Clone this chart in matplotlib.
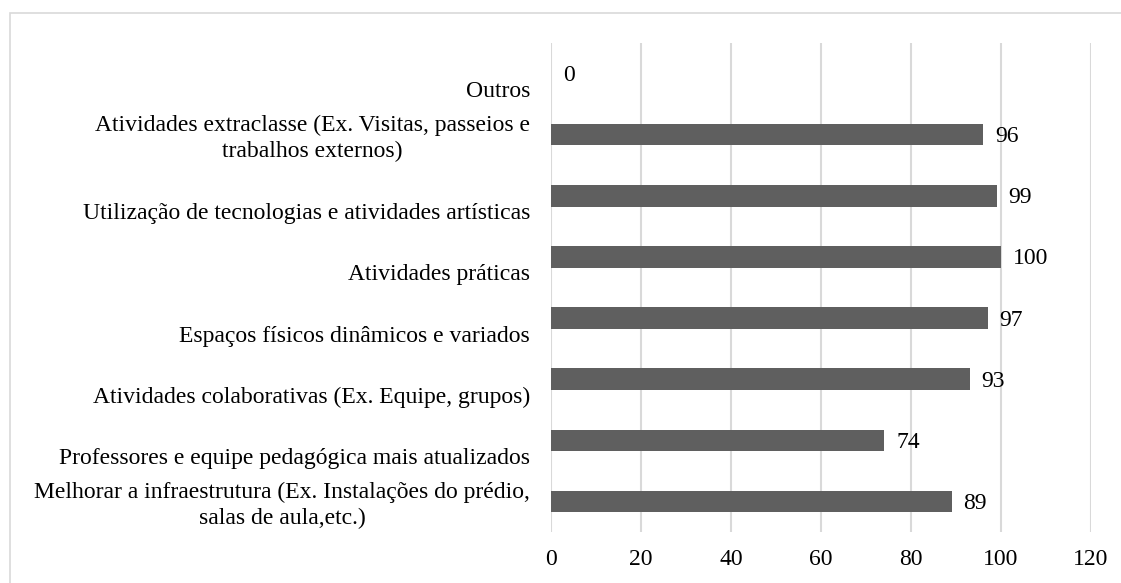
import matplotlib
matplotlib.use("Agg")
import matplotlib.pyplot as plt
import matplotlib.transforms as mtransforms
from matplotlib.patches import Rectangle

plt.rcParams['font.family'] = ['Liberation Serif', 'DejaVu Serif']

# categories from bottom to top
categorias = [
    "Melhorar a infraestrutura (Ex. Instalações do prédio,\nsalas de aula,etc.)",
    "Professores e equipe pedagógica mais atualizados",
    "Atividades colaborativas (Ex. Equipe, grupos)",
    "Espaços físicos dinâmicos e variados",
    "Atividades práticas",
    "Utilização de tecnologias e atividades artísticas",
    "Atividades extraclasse (Ex. Visitas, passeios e\ntrabalhos externos)",
    "Outros",
]
valores = [89, 74, 93, 97, 100, 99, 96, 0]
xticks = [0, 20, 40, 60, 80, 100, 120]

W, H = 1121, 583
fs = 17
fig = plt.figure(figsize=(W / 100, H / 100), dpi=100)
ax = fig.add_axes([551 / W, 1 - 532 / H, (1091 - 551) / W, (532 - 43) / H])

# light frame of the chart area (cropped on right/bottom)
fig.patches.append(Rectangle((10 / W, -0.1), 1.2, 1 - 13 / H + 0.1,
                             transform=fig.transFigure, fill=False,
                             edgecolor='#d9d9d9', linewidth=1.2))

pos = list(range(len(categorias)))
ax.barh(pos, valores, height=0.35, color='#5f5f5f', zorder=3)

ax.set_xlim(0, 120)
ax.set_ylim(-0.5, len(categorias) - 0.5)
ax.set_xticks(xticks)
ax.set_xticklabels([str(t) for t in xticks], fontsize=fs)
ax.tick_params(axis='x', length=0, pad=12)
ax.set_yticks([])
ax.grid(axis='x', color='#d9d9d9', linewidth=1.5, zorder=0)
for s in ax.spines.values():
    s.set_visible(False)

# category labels
ytrans = ax.get_yaxis_transform()
for p, lab in zip(pos, categorias):
    dy = -4 if '\n' in lab else -18
    tr = mtransforms.offset_copy(ytrans, fig=fig, x=-21, y=dy, units='dots')
    ax.text(0, p, lab, transform=tr, ha='right', va='center',
            multialignment='center', fontsize=fs, linespacing=1.3)

# value labels
for p, v in zip(pos, valores):
    tr = mtransforms.offset_copy(ax.transData, fig=fig, x=12, y=-2, units='dots')
    ax.text(v, p, str(v), transform=tr, ha='left', va='center', fontsize=fs)

fig.savefig("out.png", dpi=100)
